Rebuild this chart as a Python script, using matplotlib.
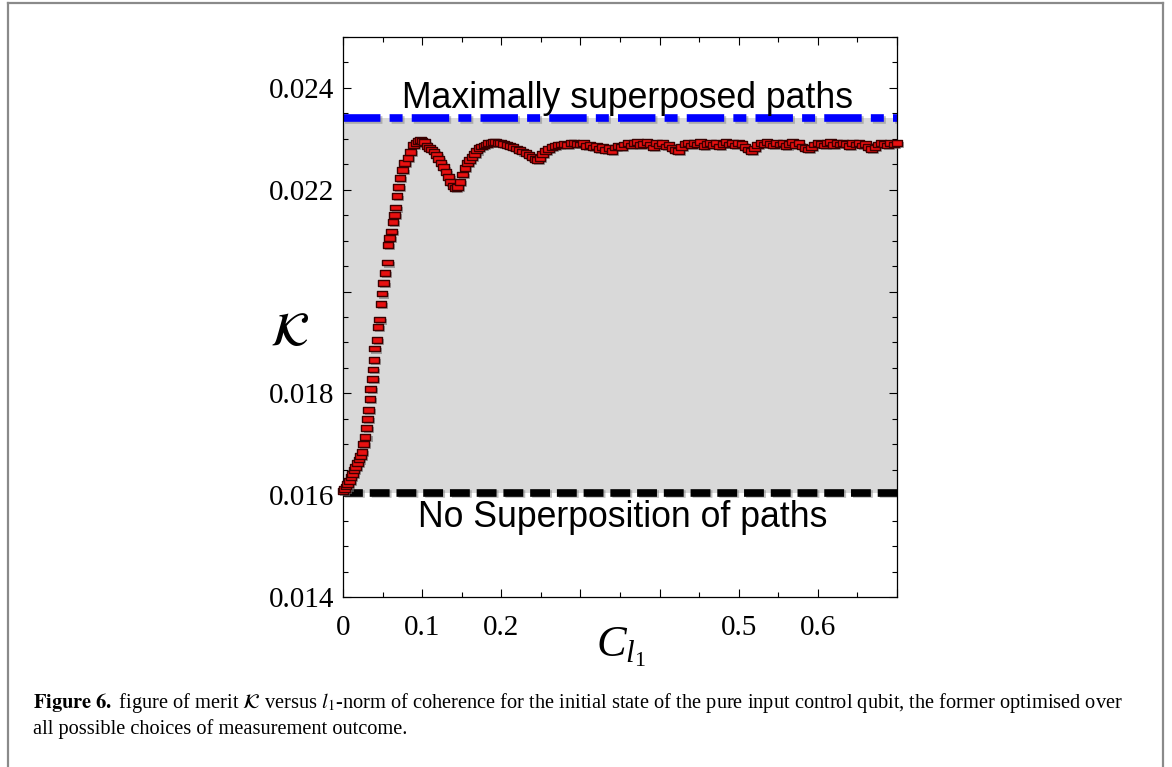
import numpy as np
import matplotlib
matplotlib.use("Agg")
import matplotlib.pyplot as plt
import matplotlib.patheffects as pe
from matplotlib.path import Path
from matplotlib.lines import Line2D
from matplotlib.ticker import MultipleLocator, FixedLocator, FixedFormatter

# ---------------- data ----------------
coherence = [
    0.000, 0.002, 0.004, 0.006, 0.008, 0.010, 0.012, 0.014, 0.016, 0.018,
    0.020, 0.022, 0.024, 0.026, 0.028, 0.030, 0.031, 0.032, 0.034, 0.035,
    0.037, 0.038, 0.039, 0.040, 0.043, 0.044, 0.046, 0.048, 0.049, 0.051,
    0.053, 0.056, 0.057, 0.059, 0.061, 0.063, 0.065, 0.066, 0.068, 0.070,
    0.072, 0.075, 0.078, 0.082, 0.085, 0.089, 0.092, 0.095, 0.098, 0.100,
    0.103, 0.106, 0.109, 0.112, 0.115, 0.118, 0.121, 0.124, 0.127, 0.130,
    0.133, 0.136, 0.139, 0.142, 0.145, 0.148, 0.151, 0.154, 0.157, 0.160,
    0.163, 0.166, 0.169, 0.172, 0.175, 0.178, 0.181, 0.184, 0.187, 0.190,
    0.193, 0.196, 0.199, 0.203, 0.207, 0.211, 0.215, 0.219, 0.223, 0.227,
    0.231, 0.235, 0.239, 0.243, 0.246, 0.249, 0.252, 0.256, 0.260, 0.264,
    0.268, 0.272, 0.276, 0.280, 0.284, 0.288, 0.292, 0.296, 0.300, 0.304,
    0.308, 0.312, 0.316, 0.320, 0.324, 0.328, 0.332, 0.336, 0.340, 0.344,
    0.348, 0.352, 0.356, 0.360, 0.364, 0.368, 0.372, 0.376, 0.380, 0.384,
    0.388, 0.392, 0.396, 0.400, 0.404, 0.408, 0.412, 0.416, 0.420, 0.424,
    0.428, 0.432, 0.436, 0.440, 0.444, 0.448, 0.452, 0.456, 0.460, 0.464,
    0.468, 0.472, 0.476, 0.480, 0.484, 0.488, 0.492, 0.496, 0.500, 0.504,
    0.508, 0.512, 0.516, 0.520, 0.524, 0.528, 0.532, 0.536, 0.540, 0.544,
    0.548, 0.552, 0.556, 0.560, 0.564, 0.568, 0.572, 0.576, 0.580, 0.584,
    0.588, 0.592, 0.596, 0.600, 0.604, 0.608, 0.612, 0.616, 0.620, 0.624,
    0.628, 0.632, 0.636, 0.640, 0.644, 0.648, 0.652, 0.656, 0.660, 0.664,
    0.668, 0.672, 0.676, 0.680, 0.684, 0.688, 0.692, 0.696, 0.700,
]
merit = [
    0.01608, 0.01612, 0.01617, 0.01622, 0.01628, 0.01635, 0.01642, 0.01649, 0.01656, 0.01663,
    0.01670, 0.01677, 0.01685, 0.01700, 0.01714, 0.01732, 0.01750, 0.01767, 0.01789, 0.01809,
    0.01829, 0.01847, 0.01866, 0.01888, 0.01905, 0.01931, 0.01945, 0.01976, 0.01996, 0.02016,
    0.02037, 0.02057, 0.02091, 0.02105, 0.02118, 0.02136, 0.02150, 0.02165, 0.02187, 0.02205,
    0.02223, 0.02238, 0.02252, 0.02262, 0.02274, 0.02288, 0.02292, 0.02295, 0.02297, 0.02295,
    0.02293, 0.02286, 0.02282, 0.02279, 0.02275, 0.02268, 0.02260, 0.02252, 0.02244, 0.02235,
    0.02225, 0.02215, 0.02207, 0.02203, 0.02205, 0.02215, 0.02230, 0.02243, 0.02252, 0.02258,
    0.02264, 0.02270, 0.02277, 0.02282, 0.02285, 0.02287, 0.02289, 0.02291, 0.02292, 0.02293,
    0.02293, 0.02292, 0.02291, 0.02290, 0.02288, 0.02286, 0.02284, 0.02281, 0.02278, 0.02275,
    0.02272, 0.02268, 0.02264, 0.02260, 0.02258, 0.02262, 0.02270, 0.02276, 0.02280, 0.02284,
    0.02286, 0.02288, 0.02289, 0.02290, 0.02288, 0.02291, 0.02292, 0.02290, 0.02289, 0.02291,
    0.02286, 0.02288, 0.02283, 0.02286, 0.02280, 0.02284, 0.02278, 0.02282, 0.02276, 0.02283,
    0.02286, 0.02284, 0.02289, 0.02292, 0.02287, 0.02291, 0.02293, 0.02288, 0.02290, 0.02294,
    0.02289, 0.02283, 0.02291, 0.02287, 0.02292, 0.02285, 0.02289, 0.02282, 0.02278, 0.02276,
    0.02284, 0.02290, 0.02292, 0.02287, 0.02291, 0.02289, 0.02293, 0.02286, 0.02290, 0.02292,
    0.02288, 0.02291, 0.02285, 0.02290, 0.02293, 0.02289, 0.02291, 0.02287, 0.02292, 0.02290,
    0.02284, 0.02279, 0.02276, 0.02281, 0.02288, 0.02291, 0.02289, 0.02293, 0.02290, 0.02287,
    0.02292, 0.02289, 0.02291, 0.02286, 0.02290, 0.02293, 0.02288, 0.02291, 0.02285, 0.02282,
    0.02279, 0.02283, 0.02289, 0.02292, 0.02290, 0.02287, 0.02291, 0.02293, 0.02288, 0.02291,
    0.02289, 0.02292, 0.02290, 0.02286, 0.02291, 0.02289, 0.02292, 0.02287, 0.02290, 0.02284,
    0.02280, 0.02283, 0.02289, 0.02292, 0.02290, 0.02287, 0.02291, 0.02289, 0.02292,
]
max_superposed = 0.0234
no_superposition = 0.01605

x_tick_values = [0.0, 0.1, 0.2, 0.3, 0.4, 0.5, 0.6, 0.7]
x_tick_labels = ["0", "0.1", "0.2", "", "", "0.5", "0.6", ""]
y_tick_values = [0.014, 0.016, 0.018, 0.020, 0.022, 0.024]
y_tick_labels = ["0.014", "0.016", "0.018", "", "0.022", "0.024"]

caption_line1 = (r"$\mathbf{Figure\ 6.}$ figure of merit $\mathcal{K}$ versus $l_1$-norm of coherence "
                 r"for the initial state of the pure input control qubit, the former optimised over")
caption_line2 = "all possible choices of measurement outcome."

# ---------------- figure ----------------
plt.rcParams["mathtext.fontset"] = "stix"
plt.rcParams["mathtext.it"] = "Liberation Serif:italic"
plt.rcParams["mathtext.rm"] = "Liberation Serif"
W, H = 1172, 767
fig = plt.figure(figsize=(W / 100, H / 100), dpi=100)

def fx(px):
    return px / W

def fy(py):
    return 1 - py / H

ax = fig.add_axes([fx(343), fy(597), fx(897) - fx(343), fy(37) - fy(597)])
ax.set_xlim(0, 0.7)
ax.set_ylim(0.014, 0.025)

# shaded band
ax.axhspan(no_superposition, max_superposed, facecolor="#d9d9d9", edgecolor="none", zorder=0)

shadow = [pe.SimpleLineShadow(offset=(1.2, -1.2), shadow_color="gray", alpha=0.5), pe.Normal()]
ax.axhline(max_superposed, color="#0000ff", lw=5.5, linestyle=(0, (4.9, 1.2, 1.7, 1.2)),
           zorder=2, path_effects=shadow)
ax.axhline(no_superposition, color="black", lw=5.5, linestyle=(0, (2.6, 0.9)),
           zorder=2, path_effects=shadow)

# rectangular markers
rect = Path([(-1, -0.55), (1, -0.55), (1, 0.55), (-1, 0.55), (-1, -0.55)],
            [Path.MOVETO, Path.LINETO, Path.LINETO, Path.LINETO, Path.CLOSEPOLY])
ax.plot(coherence, merit, linestyle="none", marker=rect, markersize=7.6,
        markerfacecolor="#e81010", markeredgecolor="#3a0000", markeredgewidth=1.0,
        zorder=3, clip_on=False,
        path_effects=[pe.SimplePatchShadow(offset=(1.5, -1.5), shadow_rgbFace="#707070", alpha=0.6),
                      pe.Normal()])

txtfont = dict(family="Liberation Sans", fontsize=25.7, color="black")
ax.text(0.3595, 0.02361, "Maximally superposed paths", ha="center", va="baseline", **txtfont)
ax.text(0.3535, 0.015384, "No Superposition of paths", ha="center", va="baseline", **txtfont)

# ticks
ax.xaxis.set_major_locator(FixedLocator(x_tick_values))
ax.xaxis.set_major_formatter(FixedFormatter(x_tick_labels))
ax.xaxis.set_minor_locator(MultipleLocator(0.05))
ax.yaxis.set_major_locator(FixedLocator(y_tick_values))
ax.yaxis.set_major_formatter(FixedFormatter(y_tick_labels))
ax.yaxis.set_minor_locator(MultipleLocator(0.0005))
ax.tick_params(which="both", direction="in", top=True, right=True, width=0.8, color="black")
ax.tick_params(which="major", length=6)
ax.tick_params(which="minor", length=3.3)
ax.tick_params(axis="x", which="major", pad=13)
ax.tick_params(axis="y", which="major", pad=6.5)
for lab in ax.get_xticklabels() + ax.get_yticklabels():
    lab.set_fontfamily("Liberation Serif")
    lab.set_fontsize(21)
for s in ax.spines.values():
    s.set_linewidth(0.9)

# axis labels
ax.text(-0.0957, 0.473, r"$\mathcal{K}$", transform=ax.transAxes, ha="center", va="center",
        fontsize=34, math_fontfamily="stix")
ax.text(0.502, -0.107, r"$C_{l_{\mathit{1}}}$", transform=ax.transAxes, ha="center", va="baseline",
        fontsize=32, math_fontfamily="custom")

# caption
fig.text(fx(33), fy(708), caption_line1, family="Liberation Serif", fontsize=14.7, va="baseline",
         ha="left", math_fontfamily="stix")
fig.text(fx(33), fy(734), caption_line2, family="Liberation Serif", fontsize=14.7, va="baseline",
         ha="left")

# page frame
for (xs, ys) in [([8, 8], [3, 800]), ([8, 1163], [3, 3]), ([1163, 1163], [3, 800])]:
    fig.add_artist(Line2D([fx(v) for v in xs], [fy(v) for v in ys], color="#8a8a8a", lw=1.6))

fig.savefig("out.png", dpi=100)
